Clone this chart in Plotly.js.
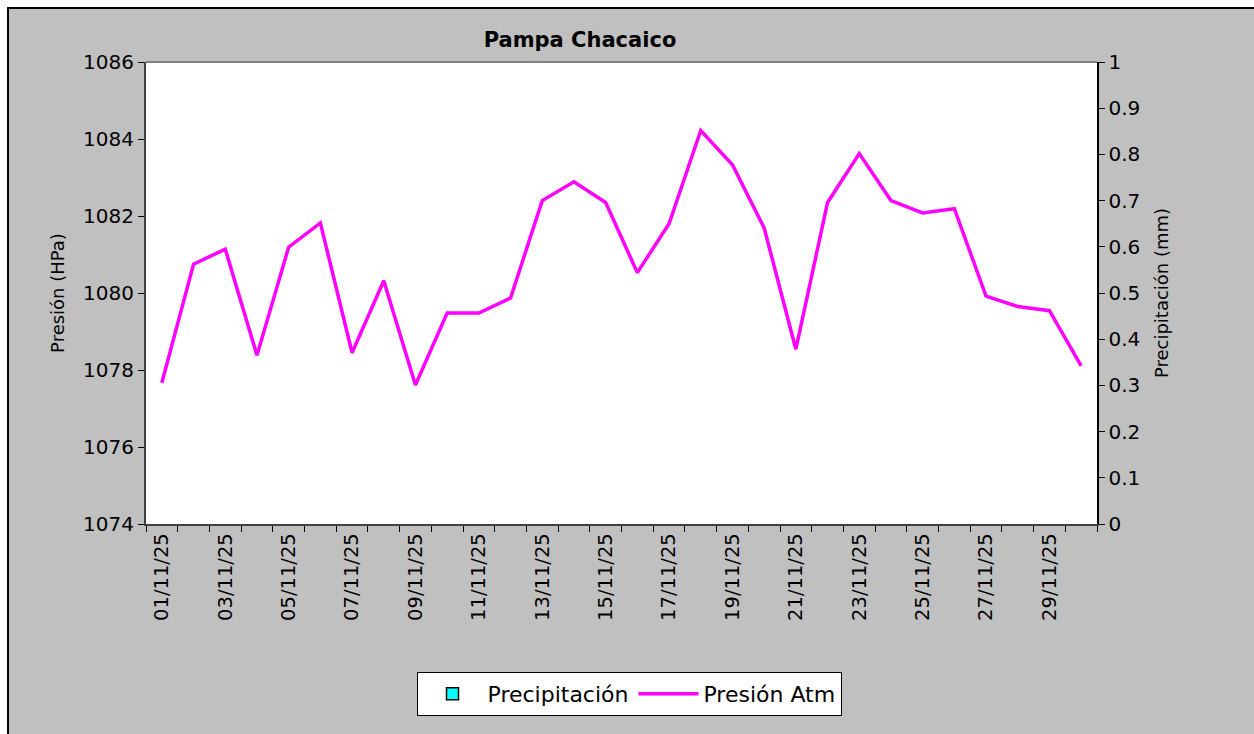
<!DOCTYPE html>
<html>
<head>
<meta charset="utf-8">
<script src="https://cdn.plot.ly/plotly-3.0.1.min.js"></script>
<style>
html,body{margin:0;padding:0;background:#ffffff;width:1254px;height:734px;overflow:hidden;}
#frame{position:absolute;left:7px;top:7px;width:1247px;height:727px;background:#c0c0c0;border-left:2px solid #000;border-top:2px solid #000;box-sizing:border-box;}
#chart{position:absolute;left:0;top:0;width:1254px;height:734px;}
#chart .legend .traces:first-child .legendpoints path{stroke:#000000 !important;stroke-width:1.5px !important;}
</style>
</head>
<body>
<div id="frame"></div>
<div id="chart"></div>
<script>
const fechas = ["01/11/25","02/11/25","03/11/25","04/11/25","05/11/25","06/11/25","07/11/25","08/11/25","09/11/25","10/11/25",
"11/11/25","12/11/25","13/11/25","14/11/25","15/11/25","16/11/25","17/11/25","18/11/25","19/11/25","20/11/25",
"21/11/25","22/11/25","23/11/25","24/11/25","25/11/25","26/11/25","27/11/25","28/11/25","29/11/25","30/11/25"];
const presion = [1077.67,1080.75,1081.14,1078.38,1081.19,1081.82,1078.45,1080.32,1077.61,1079.48,
1079.48,1079.87,1082.40,1082.89,1082.35,1080.53,1081.80,1084.22,1083.33,1081.69,
1078.54,1082.35,1083.62,1082.40,1082.08,1082.19,1079.92,1079.65,1079.54,1078.11];
const precipitacion = [0,0,0,0,0,0,0,0,0,0,0,0,0,0,0,0,0,0,0,0,0,0,0,0,0,0,0,0,0,0];

const idx = fechas.map((_, i) => i);
const labelIdx = idx.filter(i => i % 2 === 0);
const boundaries = idx.concat([fechas.length]).map(i => i - 0.5);

const font = "'DejaVu Sans', Arial, sans-serif";

const traces = [
  {
    type: "bar", name: "Precipitación", x: idx, y: precipitacion, yaxis: "y2",
    marker: {color: "#00ffff", line: {color: "#000000", width: 0}},
    hoverinfo: "skip"
  },
  {
    type: "scatter", mode: "lines", name: "Presión Atm", x: idx, y: presion, yaxis: "y",
    line: {color: "#ff00ff", width: 3.5}
  }
];

const layout = {
  width: 1254, height: 734,
  paper_bgcolor: "rgba(0,0,0,0)",
  plot_bgcolor: "#ffffff",
  margin: {l: 146, r: 157, t: 62, b: 210},
  font: {family: font, color: "#000000"},
  showlegend: true,
  title: {
    text: "<b>Pampa Chacaico</b>",
    font: {family: font, size: 21, color: "#000000"},
    x: 580/1254, xref: "container", xanchor: "center",
    y: 1 - 40/734, yref: "container", yanchor: "middle"
  },
  xaxis: {
    range: [-0.5, fechas.length - 0.5],
    tickmode: "array",
    tickvals: labelIdx,
    ticktext: labelIdx.map(i => fechas[i]),
    tickangle: -90,
    ticks: "",
    tickfont: {family: font, size: 19.5, color: "#000000"},
    showgrid: false, zeroline: false,
    showline: true, linecolor: "#404040", linewidth: 1.5,
    minor: {tickmode: "array", tickvals: boundaries, ticks: "outside", ticklen: 6, tickcolor: "#000000", tickwidth: 1, showgrid: false},
    fixedrange: true
  },
  yaxis: {
    range: [1074, 1086],
    dtick: 2, tick0: 1074,
    ticks: "outside", ticklen: 6, tickcolor: "#000000",
    tickfont: {family: font, size: 20, color: "#000000"},
    showgrid: false, zeroline: false,
    showline: true, linecolor: "#404040", linewidth: 2,
    title: {text: "Presión (HPa)", font: {family: font, size: 18, color: "#000000"}, standoff: 14},
    automargin: false
  },
  yaxis2: {
    range: [0, 1],
    dtick: 0.1, tick0: 0,
    overlaying: "y", side: "right",
    ticks: "outside", ticklen: 6, tickcolor: "#000000",
    tickfont: {family: font, size: 20, color: "#000000"},
    showgrid: false, zeroline: false,
    showline: true, linecolor: "#000000", linewidth: 1.5,
    title: {text: "Precipitación (mm)", font: {family: font, size: 18, color: "#000000"}, standoff: 16},
    automargin: false
  },
  legend: {
    orientation: "h",
    x: (629 - 146) / (1254 - 146 - 157), xanchor: "center",
    y: (524 - 672) / (734 - 62 - 210), yanchor: "top",
    bgcolor: "#ffffff", bordercolor: "#000000", borderwidth: 1,
    font: {family: font, size: 22, color: "#000000"},
    itemwidth: 60,
    traceorder: "normal"
  },
  shapes: [
    {type: "line", xref: "paper", yref: "paper", x0: 0, x1: 1, y0: 1, y1: 1, line: {color: "#808080", width: 2}}
  ],
  bargap: 0.5
};

Plotly.newPlot("chart", traces, layout, {displayModeBar: false, staticPlot: true});
</script>
</body>
</html>
